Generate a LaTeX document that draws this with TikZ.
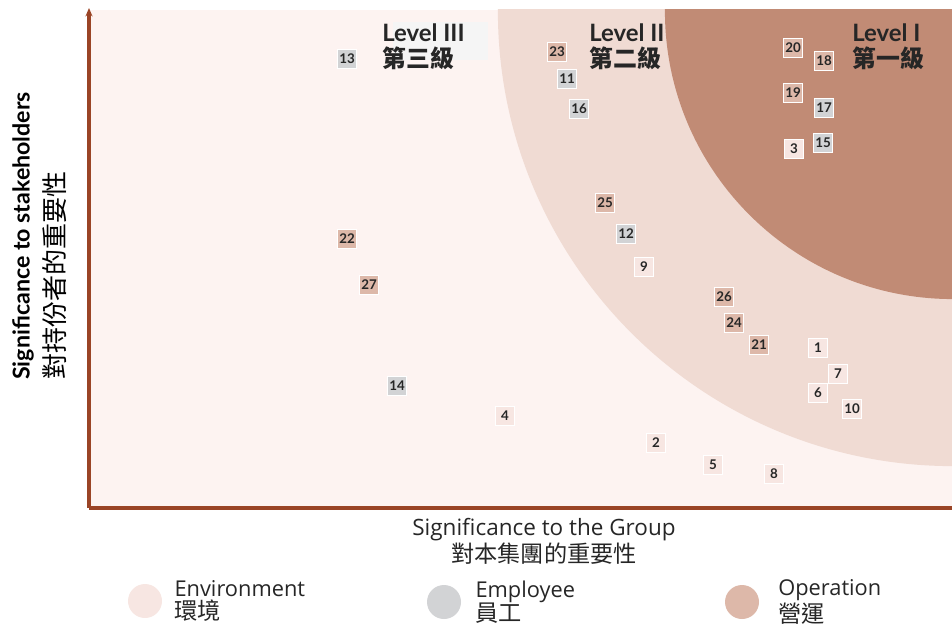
\documentclass[tikz,border=0pt]{standalone}
\usepackage{fontspec}
\setmainfont{Lato}
\newfontfamily\labelfont{Open Sans}
\newfontfamily\cjk{Noto Sans CJK TC}
\usepackage{xcolor}
\usepackage{tikz}
\usetikzlibrary{positioning,arrows.meta}

\definecolor{plotbg}{HTML}{FDF3F1}
\definecolor{bandII}{HTML}{F0DBD3}
\definecolor{coreI}{HTML}{C18B75}
\definecolor{envcol}{HTML}{F7E6E2}
\definecolor{empcol}{HTML}{D2D3D5}
\definecolor{opcol}{HTML}{DDB8A9}
\definecolor{axiscol}{HTML}{9A4426}

\begin{document}
\begin{tikzpicture}[x=0.025cm, y=-0.025cm,
    markbox/.style={rectangle, minimum size=0.475cm, inner sep=0pt, draw=white, line width=0.4pt,
        font=\fontsize{9.5}{9.5}\selectfont\bfseries, text=black!85},
    envbox/.style={markbox, fill=envcol},
    empbox/.style={markbox, fill=empcol},
    opbox/.style={markbox, fill=opcol},
    levellabel/.style={anchor=north west, align=left, inner sep=0pt, text=black!85,
        font=\fontsize{17}{19}\selectfont\bfseries},
    legdot/.style={circle, minimum size=0.85cm, inner sep=0pt},
    legtext/.style={anchor=west, align=left, inner sep=0pt, text=black!85,
        font=\labelfont\fontsize{15.5}{17}\selectfont}]
    \useasboundingbox (0,0) rectangle (952,630);

    % Plot area and the two levels
    \fill[plotbg] (90,10) rectangle (952,507);
    \begin{scope}
        \clip (90,10) rectangle (952,507);
        \fill[bandII] (953,11) circle[radius=11.375cm];
        \fill[coreI] (953,11) circle[radius=7.2cm];
    \end{scope}
    \fill[black!4] (393,22) rectangle (488,60);

    % Axes
    \coordinate (O) at (89,508);
    \coordinate (ytop) at (89,8);
    \coordinate (xend) at (952,508);
    \draw[axiscol, line width=2.2pt, -{Stealth[length=6pt,width=5pt]}] (O) -- (ytop);
    \draw[axiscol, line width=2.2pt] (O) -- (xend);

    % Level labels
    \node[levellabel] (lvl3) at (382,23) {Level III\\{\cjk 第三級}};
    \node[levellabel] (lvl2) at (589,23) {Level II\\{\cjk 第二級}};
    \node[levellabel] (lvl1) at (852,23) {Level I\\{\cjk 第一級}};

    % Environment topics
    \foreach \n/\px/\py in {1/818/348, 2/656/443, 3/794/149, 4/505/416, 5/713/465,
        6/818/393, 7/838/374, 8/774/474, 9/644/267, 10/852/409}
        \node[envbox] (m\n) at (\px,\py) {\n};

    % Employee topics
    \foreach \n/\px/\py in {11/567/79, 12/626/234, 13/347/59, 14/397/386, 15/823/143,
        16/579/109, 17/824/108}
        \node[empbox] (m\n) at (\px,\py) {\n};

    % Operation topics
    \foreach \n/\px/\py in {18/824/61, 19/793/93, 20/793/48, 21/759/345, 22/347/239,
        23/557/52, 24/734/323, 25/605/203, 26/724/297, 27/369/285}
        \node[opbox] (m\n) at (\px,\py) {\n};

    % Axis titles
    \node[rotate=90, anchor=west, inner sep=0pt, font=\fontsize{16.5}{16.5}\selectfont\bfseries] (ylab1) at (23,380) {Significance to stakeholders};
    \node[rotate=90, anchor=west, inner sep=0pt, font=\fontsize{18.5}{18.5}\selectfont] (ylab2) at (55,380) {\cjk 對持份者的重要性};
    \node[align=center, inner sep=0pt, text=black!85, font=\labelfont\fontsize{16}{19}\selectfont] (xlab) at (544,541)
        {Significance to the Group\\{\cjk\fontsize{16.5}{19}\selectfont 對本集團的重要性}};

    % Legend
    \node[legdot, fill=envcol] (lenv) at (145,601) {};
    \node[legtext, right=0.3cm of lenv] (tenv) {Environment\\{\cjk\fontsize{16.5}{17}\selectfont 環境}};
    \node[legdot, fill=empcol] (lemp) at (444,602) {};
    \node[legtext, right=0.35cm of lemp] (temp) {Employee\\{\cjk\fontsize{16.5}{17}\selectfont 員工}};
    \node[legdot, fill=opcol] (lop) at (742,602) {};
    \node[legtext, right=0.47cm of lop] (top) {Operation\\{\cjk\fontsize{16.5}{17}\selectfont 營運}};
\end{tikzpicture}
\end{document}
